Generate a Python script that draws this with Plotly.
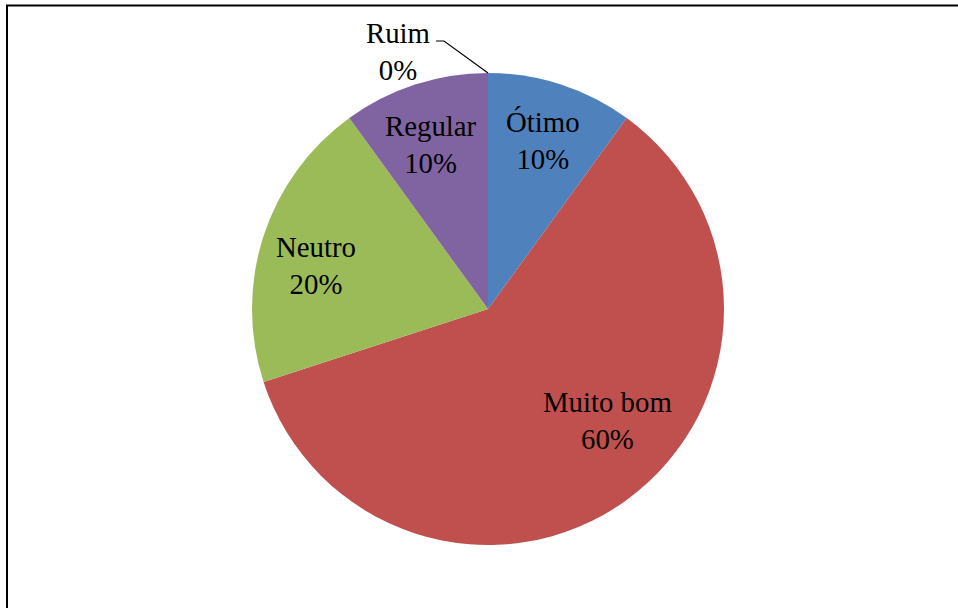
import math
import plotly.graph_objects as go

# Avaliação: categorias e percentuais
categorias = ["Ótimo", "Muito bom", "Neutro", "Regular", "Ruim"]
valores = [10, 60, 20, 10, 0]
cores = ["#4F81BD", "#C0504D", "#9BBB59", "#8064A2", "#4BACC6"]

W, H = 958, 608
CX, CY, R = 488, 309, 236  # centre and radius of the pie, in pixels
FONT = dict(family="Liberation Serif, Times New Roman, serif", size=28.8, color="black")

def px(x):
    return x / W

def py(y):
    return 1 - y / H

fig = go.Figure(go.Pie(
    labels=categorias,
    values=valores,
    sort=False,
    direction="clockwise",
    rotation=0,
    marker=dict(colors=cores, line=dict(width=0)),
    textinfo="none",
    hoverinfo="label+percent",
    showlegend=False,
    domain=dict(x=[px(CX - R), px(CX + R)], y=[py(CY + R), py(CY - R)]),
))

# label placement per slice: (radius fraction, angle nudge in degrees)
placement = {"Ótimo": (0.75, 0), "Muito bom": (0.69, -11), "Neutro": (0.752, -3.7), "Regular": (0.736, -1.2)}

total = sum(valores)
acc = 0
annotations = []
shapes = []
for cat, v in zip(categorias, valores):
    start = acc / total * 360
    acc += v
    end = acc / total * 360
    mid = (start + end) / 2
    pct = f"{round(v / total * 100)}%"
    if v > 0:
        f, nudge = placement[cat]
        a = math.radians(mid + nudge)
        x = CX + f * R * math.sin(a)
        y = CY - f * R * math.cos(a)
        annotations.append(dict(x=px(x), y=py(y), xref="paper", yref="paper",
                                text=f"{cat}<br>{pct}", showarrow=False, font=FONT,
                                xanchor="center", yanchor="middle"))
    else:
        # zero slice: label outside with a leader line to its position on the rim
        a = math.radians(mid)
        ex = CX + R * math.sin(a)
        ey = CY - R * math.cos(a)
        annotations.append(dict(x=px(398), y=py(52), xref="paper", yref="paper",
                                text=f"{cat}<br>{pct}", showarrow=False, font=FONT,
                                xanchor="center", yanchor="middle"))
        shapes.append(dict(type="path", xref="paper", yref="paper",
                           path=f"M {px(436)} {py(41)} L {px(444)} {py(41)} L {px(ex)} {py(ey)}",
                           line=dict(color="black", width=1.2)))

# chart frame
shapes.append(dict(type="path", xref="paper", yref="paper",
                   path=f"M {px(7)} {py(H + 5)} L {px(7)} {py(5.5)} L {px(W + 5)} {py(5.5)}",
                   line=dict(color="black", width=2)))

fig.update_layout(
    width=W, height=H,
    margin=dict(l=0, r=0, t=0, b=0),
    paper_bgcolor="white",
    plot_bgcolor="white",
    font=FONT,
    annotations=annotations,
    shapes=shapes,
)

fig.write_html("out.html")
